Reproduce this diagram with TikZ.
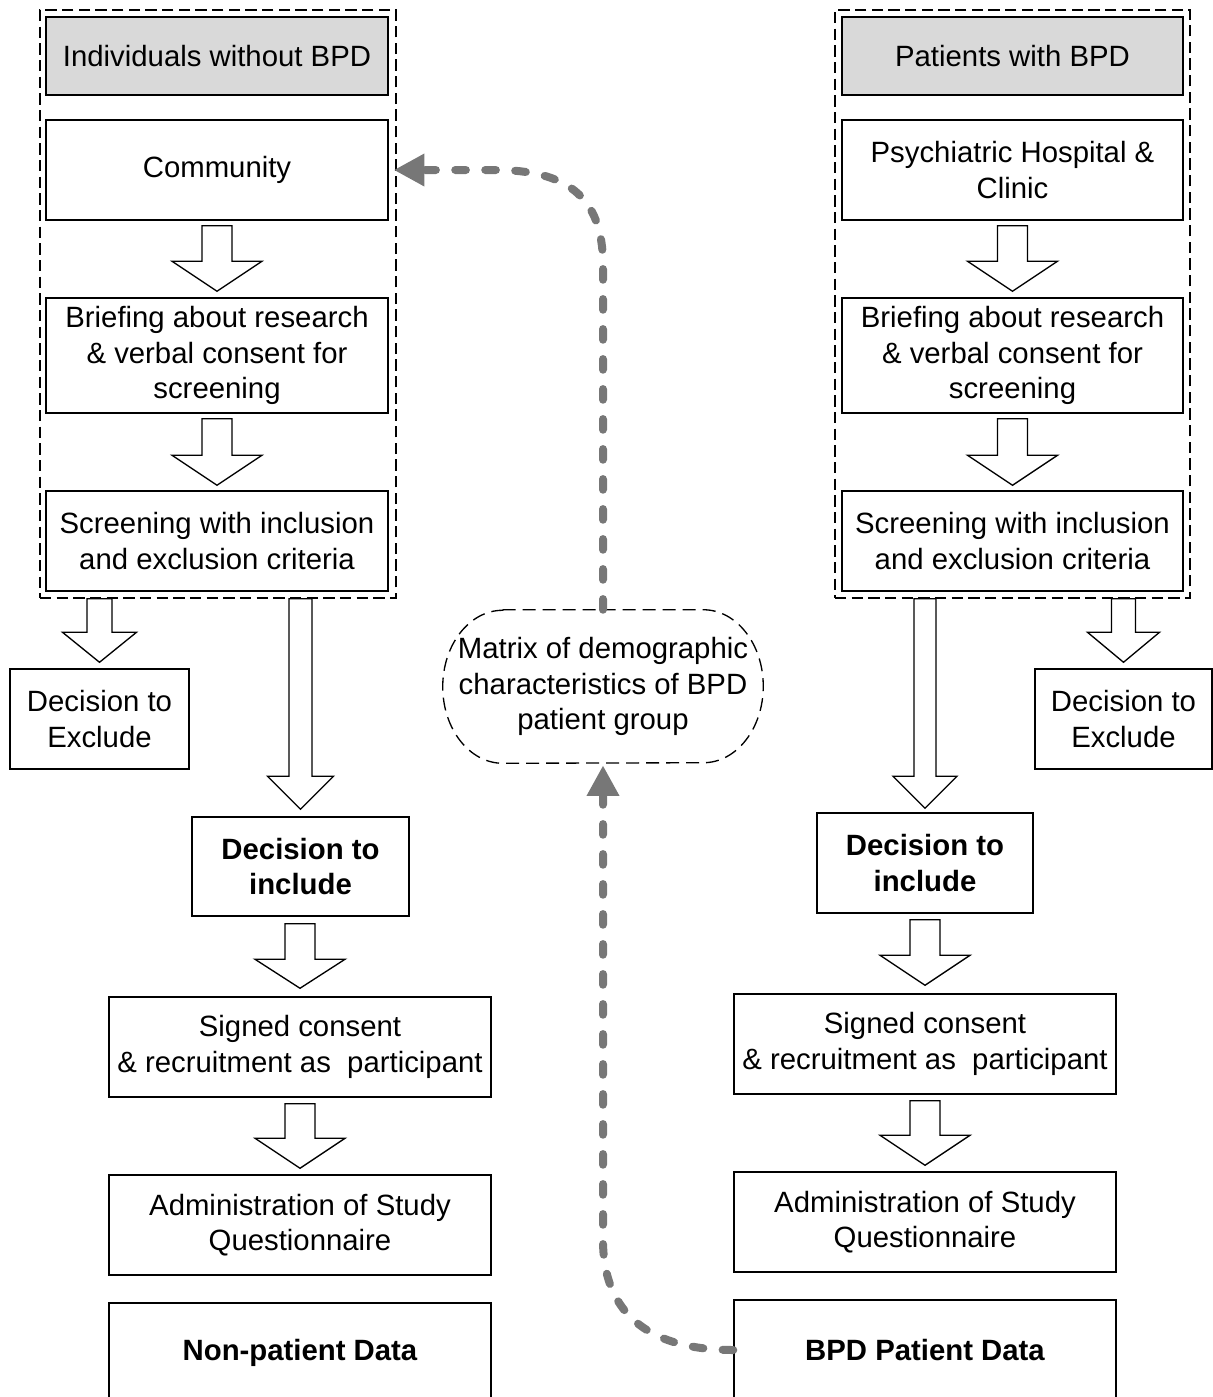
\documentclass[tikz,border=0pt]{standalone}
\usepackage{fontspec}
\setmainfont{Liberation Sans}
\usetikzlibrary{calc,arrows.meta}
\definecolor{hdrgray}{HTML}{D9D9D9}
\definecolor{conngray}{HTML}{777777}
% block arrow: #1 source coordinate, #2 target node, #3 shaft half-width, #4 head half-width,
% #5 gap below source, #6 gap above target, #7 head length (all in px)
\newcommand\blockarr[7]{%
  \draw[blockline] let \p1=(#1), \p2=(#2.north) in
    (\x2-#3*0.75pt, \y1-#5*0.75pt) -- (\x2+#3*0.75pt, \y1-#5*0.75pt)
    -- (\x2+#3*0.75pt, \y2+#6*0.75pt+#7*0.75pt) -- (\x2+#4*0.75pt, \y2+#6*0.75pt+#7*0.75pt)
    -- (\x2, \y2+#6*0.75pt)
    -- (\x2-#4*0.75pt, \y2+#6*0.75pt+#7*0.75pt) -- (\x2-#3*0.75pt, \y2+#6*0.75pt+#7*0.75pt) -- cycle;}
\begin{document}
\begin{tikzpicture}[x=0.75pt,y=-0.75pt,
  txt/.style={font=\fontsize{22}{26.4}\selectfont},
  box/.style={txt, draw=black, line width=1.1pt, fill=white, align=center, inner sep=0pt},
  hdr/.style={box, fill=hdrgray},
  bbox/.style={box, font=\fontsize{22}{26.4}\selectfont\bfseries},
  sz/.style 2 args={minimum width=#1*0.75pt, minimum height=#2*0.75pt},
  grp/.style={draw=black, line width=1.1pt, dash pattern=on 8.5pt off 4pt, inner sep=0pt},
  mdash/.style={draw=black, line width=1pt, dash pattern=on 9.75pt off 5.25pt},
  blockline/.style={draw=black, line width=1pt, fill=white, line join=miter},
  conn/.style={draw=conngray, line width=6pt, line cap=round, dash pattern=on 8pt off 14.5pt},
  ctip/.style={-{Triangle[length=23pt,width=23pt,fill=conngray,color=conngray]}}
]
\useasboundingbox (0,0) rectangle (1213,1397);

% dashed groups
\node[grp, sz={356}{588}] (grpL) at (218,304) {};
\node[grp, sz={355}{588}] (grpR) at (1012.5,304) {};

% left column
\node[hdr, sz={342}{78}] (hdrL) at (217,56) {Individuals without BPD};
\node[box, sz={342}{100}] (comm) at (217,170) {Community};
\node[box, sz={342}{115}] (brfL) at (217,355.5) {Briefing about research\\\& verbal consent for\\screening};
\node[box, sz={342}{100}] (scrL) at (217,541) {Screening with inclusion\\and exclusion criteria};
\node[box, sz={179}{100}] (exL) at (99.5,719) {Decision to\\Exclude};
\node[bbox, sz={217}{99}] (incL) at (300.5,866.5) {Decision to\\include};
\node[box, sz={382}{100}] (sgnL) at (300,1047) {Signed consent\\\& recruitment as\ \ participant};
\node[box, sz={382}{100}] (admL) at (300,1225) {Administration of Study\\Questionnaire};
\node[bbox, sz={382}{100}] (datL) at (300,1353) {Non-patient Data};

% right column
\node[hdr, sz={341}{78}] (hdrR) at (1012.5,56) {Patients with BPD};
\node[box, sz={341}{100}] (psy) at (1012.5,170) {Psychiatric Hospital \&\\Clinic};
\node[box, sz={341}{115}] (brfR) at (1012.5,355.5) {Briefing about research\\\& verbal consent for\\screening};
\node[box, sz={341}{100}] (scrR) at (1012.5,541) {Screening with inclusion\\and exclusion criteria};
\node[box, sz={177}{100}] (exR) at (1123.5,719) {Decision to\\Exclude};
\node[bbox, sz={216}{100}] (incR) at (925,863) {Decision to\\include};
\node[box, sz={382}{100}] (sgnR) at (925,1044) {Signed consent\\\& recruitment as\ \ participant};
\node[box, sz={382}{100}] (admR) at (925,1222) {Administration of Study\\Questionnaire};
\node[bbox, sz={382}{100}] (datR) at (925,1350) {BPD Patient Data};

% block arrows left
\blockarr{comm.south}{brfL}{15}{45}{5}{6}{30}
\blockarr{brfL.south}{scrL}{15}{45}{5}{5}{30}
\blockarr{grpL.south}{exL}{12.5}{37}{0}{6}{30}
\blockarr{grpL.south}{incL}{11.5}{33}{0}{7}{33}
\blockarr{incL.south}{sgnL}{15}{45}{7}{8}{29}
\blockarr{sgnL.south}{admL}{15}{45}{6}{6}{30}
% block arrows right
\blockarr{psy.south}{brfR}{15}{45}{5}{6}{30}
\blockarr{brfR.south}{scrR}{15}{45}{5}{5}{30}
\blockarr{grpR.south}{exR}{12}{36}{0}{6}{30}
\blockarr{grpR.south}{incR}{11}{32}{0}{4}{32}
\blockarr{incR.south}{sgnR}{15}{45}{6}{8}{30}
\blockarr{sgnR.south}{admR}{15}{45}{6}{6}{30}

% middle matrix shape
\node[txt, inner sep=0pt, sz={320}{153}, align=center] (mat) at (603,686.5) {Matrix of demographic\\characteristics of BPD\\patient group};
\draw[mdash] ($(mat.north west)+(60,0)$) -- ($(mat.north east)+(-60,0)$)
  arc[start angle=90, end angle=-90, x radius=45pt, y radius=57.375pt]
  -- ($(mat.south west)+(60,0)$)
  arc[start angle=270, end angle=90, x radius=45pt, y radius=57.375pt] -- cycle;

% gray dashed connectors
\draw[conn, ctip] (mat.north) -- (603,265) .. controls (603,195) and (565,170) .. (495,170) -- ($(comm.east)+(5,0)$);
\draw[conn, ctip] (datR.west) .. controls (645,1350) and (603,1310) .. (603,1240) -- ($(mat.south)+(0,2)$);
\end{tikzpicture}
\end{document}
